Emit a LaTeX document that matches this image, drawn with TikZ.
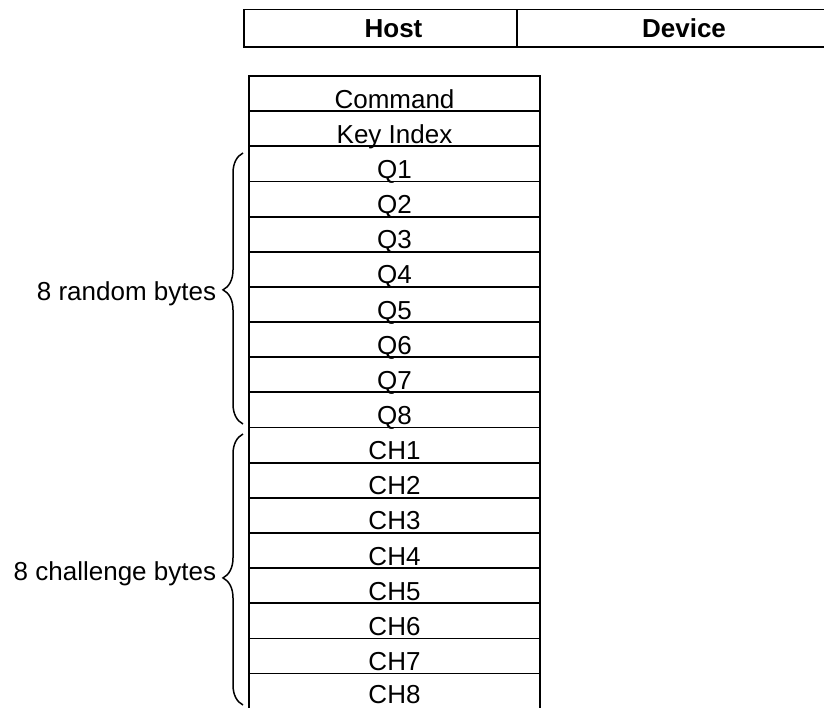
\documentclass[tikz,border=0pt]{standalone}
\usepackage{fontspec}
\setmainfont{Liberation Sans}
\usepackage{tikz}
\usetikzlibrary{decorations.pathreplacing}

\begin{document}
\begin{tikzpicture}[x=1pt, y=-1pt, line width=1.8pt,
    every node/.style={font=\fontsize{26pt}{30pt}\selectfont, inner sep=0pt},
    headcell/.style={draw, minimum height=37.5pt},
    byterow/.style={draw, minimum width=291pt, text height=32.15pt, text depth=3pt},
    bytebrace/.style={decorate, line width=1.5pt, decoration={brace, amplitude=20pt}}]
  \useasboundingbox (0,0) rectangle (824,707);

  % Header
  \node[headcell, minimum width=273pt] (hostcell) at (380.5,28.25) {};
  \node[headcell, minimum width=343pt] (devcell) at (688.5,28.25) {};
  \node[anchor=base, font=\fontsize{26pt}{30pt}\selectfont\bfseries] (host) at (393.5,37) {Host};
  \node[anchor=base, font=\fontsize{26pt}{30pt}\selectfont\bfseries] (device) at (684,37) {Device};

  % Command bytes
  \node[byterow] (cmd) at (394.5, 93.575) {Command};
  \node[byterow] (keyidx) at (394.5,128.725) {Key Index};

  % Random bytes
  \node[byterow] (q1) at (394.5,163.875) {Q1};
  \node[byterow] (q2) at (394.5,199.025) {Q2};
  \node[byterow] (q3) at (394.5,234.175) {Q3};
  \node[byterow] (q4) at (394.5,269.325) {Q4};
  \node[byterow] (q5) at (394.5,304.475) {Q5};
  \node[byterow] (q6) at (394.5,339.625) {Q6};
  \node[byterow] (q7) at (394.5,374.775) {Q7};
  \node[byterow] (q8) at (394.5,409.925) {Q8};

  % Challenge bytes
  \node[byterow] (ch1) at (394.5,445.075) {CH1};
  \node[byterow] (ch2) at (394.5,480.225) {CH2};
  \node[byterow] (ch3) at (394.5,515.375) {CH3};
  \node[byterow] (ch4) at (394.5,550.525) {CH4};
  \node[byterow] (ch5) at (394.5,585.675) {CH5};
  \node[byterow] (ch6) at (394.5,620.825) {CH6};
  \node[byterow] (ch7) at (394.5,655.975) {CH7};
  \node[byterow, text height=29.45pt, text depth=5.7pt] (ch8) at (394.5,691.125) {CH8};

  % Braces
  \coordinate (qtop) at (243,153);
  \coordinate (qbot) at (243,424);
  \coordinate (chtop) at (243,434);
  \coordinate (chbot) at (243,705);
  \draw[bytebrace, decoration={aspect=0.495}] (qbot) -- (qtop);
  \draw[bytebrace, decoration={aspect=0.469}] (chbot) -- (chtop);
  \node[anchor=base east] (qlabel) at (217,300) {8 random bytes};
  \node[anchor=base east] (chlabel) at (217,580) {8 challenge bytes};
\end{tikzpicture}
\end{document}
